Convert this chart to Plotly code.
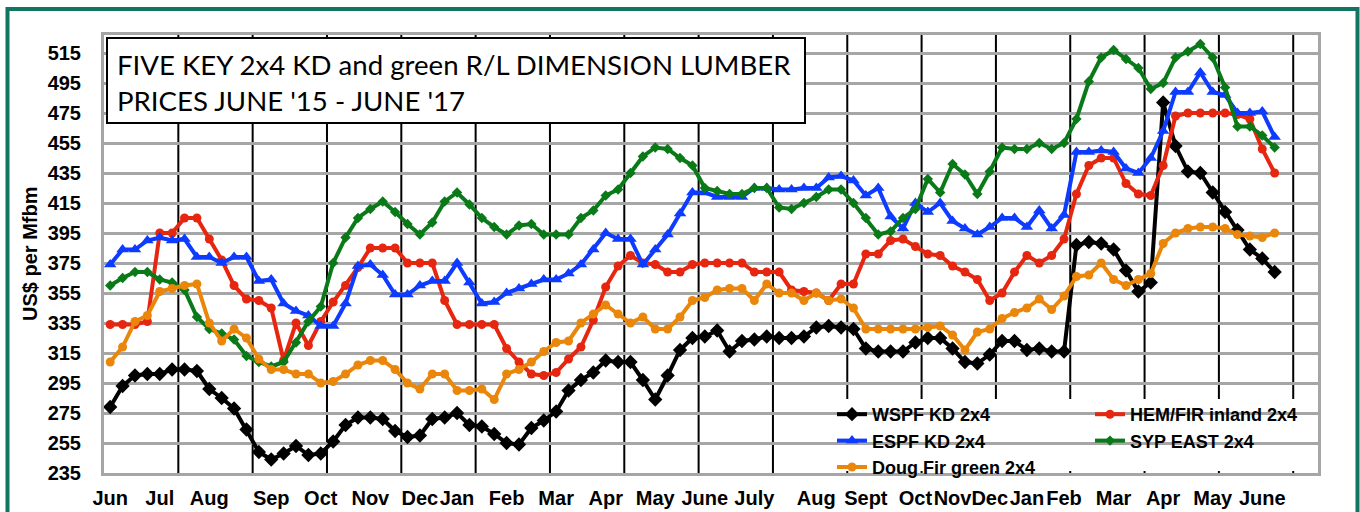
import plotly.graph_objects as go

# ---------------- data (weekly, June 2015 - June 2017) ----------------
wspf = [279, 293, 300, 301, 301, 304, 304, 303, 291, 285,
        278, 264, 249, 244, 248, 253, 247, 248, 256, 267,
        272, 272, 271, 263, 259, 260, 271, 272, 275, 267,
        266, 261, 255, 254, 265, 270, 276, 290, 297, 302,
        310, 309, 309, 297, 284, 300, 317, 325, 326, 330,
        316, 323, 324, 326, 325, 325, 326, 332, 333, 332,
        331, 318, 316, 316, 316, 322, 325, 325, 318, 309,
        308, 314, 323, 323, 317, 318, 316, 316, 387, 389,
        388, 384, 370, 356, 362, 482, 453, 436, 435, 422,
        409, 397, 384, 378, 369]
hem_fir = [334, 334, 334, 336, 395, 395, 405, 405, 391, 377, 360, 351, 350, 345, 310, 335, 320,
           336, 349, 360, 372, 385, 385, 385, 375, 375, 375, 350, 334, 334, 334, 334, 318,
           309, 301, 300, 302, 311, 319, 337, 359, 373, 380, 375, 374, 369, 369, 374, 375,
           375, 375, 375, 369, 369, 369, 357, 356, 355, 350, 361, 361, 381, 381, 390, 391,
           386, 381, 380, 373, 369, 364, 350, 355, 369, 380, 375, 380, 391, 421, 440, 445,
           445, 428, 421, 420, 440, 473, 475, 475, 475, 475, 474, 471, 451, 435]
espf = [374, 384, 384, 390, 392, 390, 391, 379, 379, 375, 379, 379, 363, 364, 348, 343, 340,
        333, 333, 348, 373, 374, 367, 354, 354, 360, 363, 363, 375, 362, 348, 349, 355,
        358, 361, 364, 364, 368, 374, 384, 395, 391, 391, 374, 384, 394, 408, 422, 422,
        419, 419, 419, 425, 425, 424, 424, 425, 425, 432, 433, 430, 420, 425, 406, 398,
        415, 409, 415, 403, 398, 394, 399, 405, 405, 399, 410, 398, 407, 449, 449, 450,
        449, 438, 435, 445, 463, 489, 489, 502, 489, 487, 475, 475, 476, 459]
syp_east = [360, 365, 369, 369, 364, 362, 357, 339, 331, 328, 324, 313, 309, 306, 309, 322, 336,
            346, 375, 392, 405, 411, 416, 409, 401, 394, 402, 416, 422, 414, 405, 399, 394,
            400, 401, 394, 394, 394, 405, 410, 420, 424, 435, 446, 452, 451, 445, 440, 425,
            423, 421, 421, 425, 425, 412, 411, 415, 419, 424, 424, 415, 405, 394, 396, 405,
            411, 431, 422, 441, 434, 421, 436, 452, 451, 451, 455, 451, 455, 471, 496, 512,
            517, 511, 505, 491, 495, 512, 516, 521, 512, 492, 466, 466, 460, 452]
doug_fir = [309, 319, 336, 340, 356, 358, 360, 361, 335, 323, 331, 325, 311, 304, 304, 301, 301,
            295, 296, 301, 307, 310, 310, 304, 295, 291, 301, 301, 290, 290, 291, 284, 301,
            304, 309, 316, 322, 323, 335, 341, 347, 341, 335, 339, 331, 331, 339, 350, 352,
            357, 358, 358, 350, 361, 355, 355, 350, 355, 350, 351, 345, 331, 331, 331, 331,
            331, 332, 333, 327, 317, 329, 331, 338, 342, 345, 351, 344, 353, 366, 367, 375,
            364, 360, 364, 368, 388, 395, 398, 399, 399, 398, 394, 393, 392, 395]
weeks = list(range(len(wspf)))

month_labels = ["Jun", "Jul", "Aug", "Sep", "Oct", "Nov", "Dec", "Jan", "Feb", "Mar", "Apr", "May",
                "June", "July", "Aug", "Sept", "Oct", "Nov", "Dec", "Jan", "Feb", "Mar", "Apr",
                "May", "June"]
month_pos = [0, 4, 8, 13, 17, 21, 25, 28, 32, 36, 40, 44, 48, 52, 57, 61, 65, 68, 71, 74, 77,
             81, 85, 89, 93]
y_ticks = list(range(235, 516, 20))
n_cats = 98
tick_every = 6

# ---------------- layout geometry ----------------
W, H = 1360, 512
L, R, T, B = 104, 1318, 35, 473


def px2x(px):
    return (px - L) / (R - L)


def px2y(py):
    return (B - py) / (B - T)


BOLD = dict(family="Arial, Liberation Sans, sans-serif", color="black", weight="bold")

series = [
    ("WSPF KD 2x4", wspf, "#000000", "diamond", 11, "legend"),
    ("HEM/FIR inland 2x4", hem_fir, "#e6260f", "circle", 9, "legend2"),
    ("ESPF KD 2x4", espf, "#0d3bff", "triangle-up", 11, "legend"),
    ("SYP EAST 2x4", syp_east, "#0a7a18", "diamond", 8, "legend2"),
    ("Doug Fir green 2x4", doug_fir, "#ea860a", "circle", 9, "legend"),
]

fig = go.Figure()
for name, vals, col, sym, msize, lg in series:
    fig.add_trace(go.Scatter(
        x=weeks, y=vals, name=name, mode="lines+markers", legend=lg,
        line=dict(color=col, width=4),
        marker=dict(color=col, symbol=sym, size=msize),
    ))

shapes = []
# vertical black category separators
for k in range(1, n_cats // tick_every + 1):
    b = k * tick_every - 0.5
    if b < n_cats - 0.5:
        shapes.append(dict(type="line", xref="x", yref="paper", x0=b, x1=b, y0=0, y1=1,
                           line=dict(color="black", width=2), layer="between"))
# white legend box
shapes.append(dict(type="rect", xref="paper", yref="paper", x0=px2x(803), x1=px2x(1316),
                   y0=px2y(471), y1=px2y(399), fillcolor="white", line=dict(width=0),
                   layer="between"))
# title box
shapes.append(dict(type="rect", xref="paper", yref="paper", x0=px2x(107), x1=px2x(805),
                   y0=px2y(123), y1=px2y(38), fillcolor="white",
                   line=dict(color="black", width=2), layer="above"))
# outer teal frame
shapes.append(dict(type="rect", xref="paper", yref="paper", x0=px2x(7.5), x1=px2x(1357.5),
                   y0=px2y(540), y1=px2y(9), line=dict(color="#127562", width=4),
                   layer="above"))

annotations = [
    dict(text="FIVE KEY 2x4 KD and green R/L DIMENSION LUMBER<br>PRICES JUNE '15 - JUNE '17",
         xref="paper", yref="paper", x=px2x(115), y=px2y(82), xanchor="left", yanchor="middle",
         align="left", showarrow=False,
         font=dict(family="Lato, Open Sans, sans-serif", size=27.6, color="black")),
    dict(text="US$ per Mfbm", xref="paper", yref="paper", x=px2x(30), y=px2y(254),
         textangle=-90, showarrow=False, xanchor="center", yanchor="middle",
         font=dict(BOLD, size=20)),
]

fig.update_layout(
    width=W, height=H,
    margin=dict(l=L, r=W - R, t=T, b=H - B, pad=0, autoexpand=False),
    paper_bgcolor="white", plot_bgcolor="white",
    shapes=shapes, annotations=annotations,
    xaxis=dict(range=[-0.5, n_cats - 0.5], tickmode="array", tickvals=month_pos,
               ticktext=month_labels, showgrid=False, zeroline=False, ticks="",
               tickangle=0, automargin=False,
               tickfont=dict(BOLD, size=20), ticklabelstandoff=5,
               showline=True, mirror=True, linecolor="#a6a6a6", linewidth=3),
    yaxis=dict(range=[235, 527], tickmode="array", tickvals=y_ticks, showgrid=True,
               gridcolor="#a6a6a6", gridwidth=2.5, zeroline=False, ticks="",
               automargin=False,
               tickfont=dict(BOLD, size=20), ticklabelstandoff=16,
               showline=True, mirror=True, linecolor="#a6a6a6", linewidth=3),
    legend=dict(x=px2x(832), y=px2y(396), xanchor="left", yanchor="top",
                bgcolor="rgba(0,0,0,0)", font=dict(BOLD, size=18), tracegroupgap=0,
                itemwidth=30),
    legend2=dict(x=px2x(1090), y=px2y(396), xanchor="left", yanchor="top",
                 bgcolor="rgba(0,0,0,0)", font=dict(BOLD, size=18), tracegroupgap=0,
                 itemwidth=30),
    showlegend=True,
)

fig.write_html("out.html", config={"displayModeBar": False},
               post_script="document.body.style.margin='0';document.body.style.overflow='hidden';")
